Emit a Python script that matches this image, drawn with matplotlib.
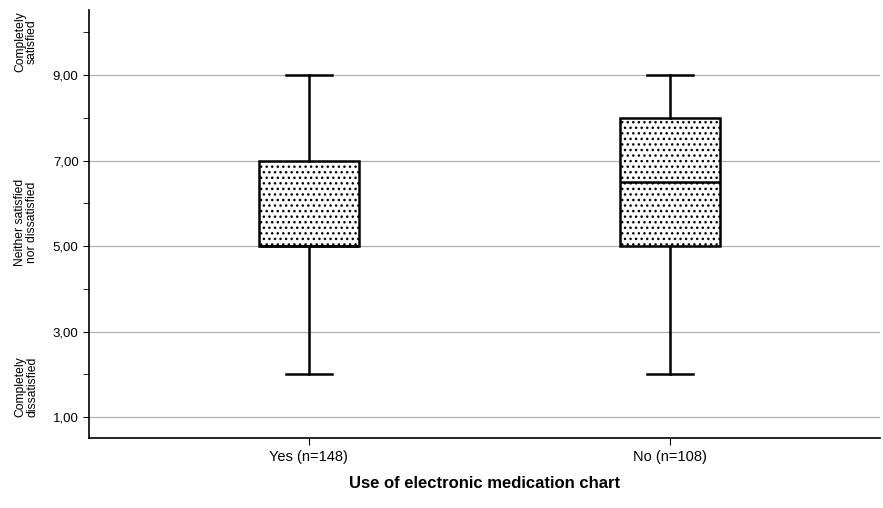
import matplotlib
matplotlib.use("Agg")
import matplotlib.pyplot as plt
from matplotlib.ticker import FixedLocator, FuncFormatter

plt.rcParams["font.family"] = ["Liberation Sans", "DejaVu Sans"]
plt.rcParams["hatch.linewidth"] = 1.0

# box statistics
groups = ["Yes (n=148)", "No (n=108)"]
whislo = [2, 2]
q1 = [5, 5]
med = [5, 6.5]
q3 = [7, 8]
whishi = [9, 9]

major_ticks = [1, 3, 5, 7, 9]
minor_ticks = [2, 4, 6, 8, 10]
level_labels = ["Completely\nsatisfied", "Neither satisfied\nnor dissatisfied", "Completely\ndissatisfied"]
level_pos = [9.77, 5.56, 1.7]

stats = [
    dict(label=g, whislo=lo, q1=a, med=m, q3=b, whishi=hi, fliers=[])
    for g, lo, a, m, b, hi in zip(groups, whislo, q1, med, q3, whishi)
]

fig = plt.figure(figsize=(8.83, 5.08), dpi=100)
ax = fig.add_axes([89 / 883, 1 - 438 / 508, 791 / 883, 428 / 508])

bp = ax.bxp(
    stats, positions=[0, 1], widths=0.277, patch_artist=True, showfliers=False,
    boxprops=dict(facecolor="white", edgecolor="black", linewidth=1.8, hatch="..."),
    medianprops=dict(color="black", linewidth=1.8),
    whiskerprops=dict(color="black", linewidth=1.8),
    capprops=dict(color="black", linewidth=1.8),
    capwidths=0.127,
    zorder=3,
)

ax.set_xlim(-0.609, 1.582)
ax.set_ylim(0.51, 10.52)
ax.yaxis.set_major_locator(FixedLocator(major_ticks))
ax.yaxis.set_minor_locator(FixedLocator(minor_ticks))
ax.yaxis.set_major_formatter(FuncFormatter(lambda v, p: f"{v:.2f}".replace(".", ",")))
ax.tick_params(axis="y", which="both", direction="out", length=4, labelsize=9.5)
ax.tick_params(axis="x", direction="out", length=5, labelsize=10.5)
ax.grid(True, axis="y", which="major", color="#b0b0b0", linewidth=0.9, zorder=0)
ax.set_axisbelow(True)
for side in ("top", "right"):
    ax.spines[side].set_visible(False)
for side in ("left", "bottom"):
    ax.spines[side].set_linewidth(1.2)

for txt, y in zip(level_labels, level_pos):
    ax.text(-63 / 791, y, txt, transform=ax.get_yaxis_transform(), rotation=90,
            ha="center", va="center", fontsize=8.7, linespacing=1.0)

ax.set_xlabel("Use of electronic medication chart", fontsize=12, fontweight="bold", labelpad=9)

fig.savefig("out.png", dpi=100)
